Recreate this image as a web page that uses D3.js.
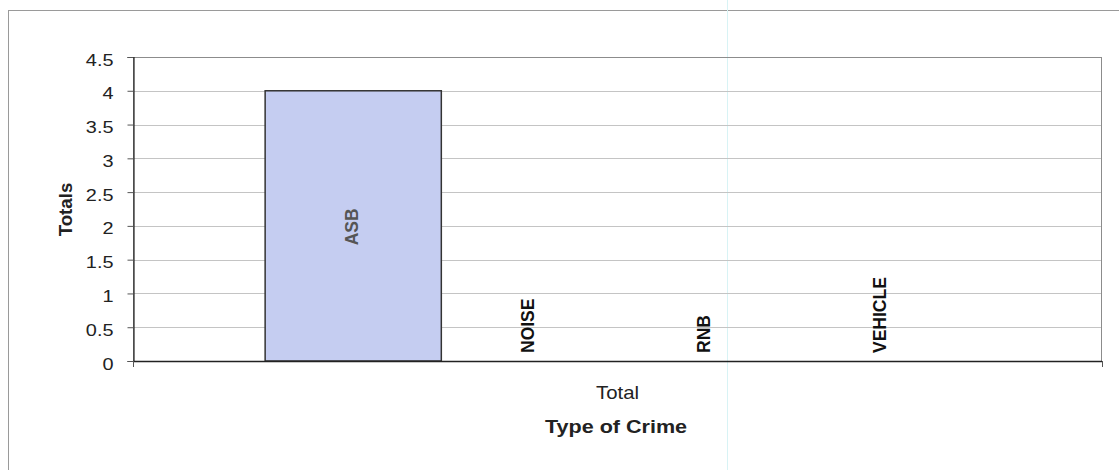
<!DOCTYPE html>
<html><head><meta charset="utf-8">
<script src="https://cdn.jsdelivr.net/npm/d3@7"></script>
<style>body{margin:0;background:#fff}svg{display:block}text{font-family:"Liberation Sans",Arial,sans-serif}</style>
</head><body>
<svg id="c" width="1119" height="470"></svg>
<script>
const categories = ["Total"];
const series = ["ASB", "NOISE", "RNB", "VEHICLE"];
const values = [4, 0, 0, 0];
const yTicks = [0, 0.5, 1, 1.5, 2, 2.5, 3, 3.5, 4, 4.5];

const svg = d3.select("#c");
const L = 133, R = 1102, T = 57, B = 361;

// outer chart border (scan)
svg.append("line").attr("x1",8).attr("x2",1119).attr("y1",10.5).attr("y2",10.5).attr("stroke","#9a9a9a").attr("stroke-width",1);
svg.append("line").attr("x1",8.5).attr("x2",8.5).attr("y1",10).attr("y2",470).attr("stroke","#9a9a9a").attr("stroke-width",1);
// faint scan line
svg.append("line").attr("x1",727.5).attr("x2",727.5).attr("y1",0).attr("y2",470).attr("stroke","#d8f3f5").attr("stroke-width",1);

const y = d3.scaleLinear().domain([0, 4.5]).range([B, T]);
const x0 = d3.scaleBand().domain(categories).range([L, R]);
const x1 = d3.scaleBand().domain(series).range([0, x0.bandwidth()]).paddingInner(0).paddingOuter(0.75);

// gridlines
svg.append("g").selectAll("line").data(yTicks.filter(d => d > 0)).join("line")
  .attr("x1", L).attr("x2", R).attr("y1", d => Math.round(y(d)) + 0.5).attr("y2", d => Math.round(y(d)) + 0.5)
  .attr("stroke", "#c4c4c4").attr("stroke-width", 1);
// plot border
svg.append("rect").attr("x", L + 0.5).attr("y", Math.round(T) + 0.5).attr("width", R - L - 1).attr("height", B - T)
  .attr("fill", "none").attr("stroke", "#8c8c8c").attr("stroke-width", 1);

// bars
const g = svg.append("g").attr("transform", `translate(${x0("Total")},0)`);
const rows = series.map((s, i) => ({s, v: values[i]}));
g.selectAll("rect").data(rows).join("rect")
  .attr("x", d => x1(d.s)).attr("width", x1.bandwidth())
  .attr("y", d => y(d.v)).attr("height", d => y(0) - y(d.v))
  .attr("fill", "#c5cdf1").attr("stroke", "#333").attr("stroke-width", d => d.v > 0 ? 1.5 : 0);

// data labels
g.selectAll("text.lbl").data(rows).join("text")
  .attr("class", "lbl")
  .attr("transform", d => {
    const cx = x1(d.s) + x1.bandwidth() / 2 - 1.5;
    const cy = d.v > 0 ? (y(d.v) + y(0)) / 2 + 1 : y(0) - 8;
    return `translate(${cx},${cy}) rotate(-90)`;
  })
  .attr("text-anchor", d => d.v > 0 ? "middle" : "start")
  .attr("dy", "0.35em")
  .attr("font-size", 17.5).attr("font-weight", "bold")
  .attr("fill", d => d.v > 0 ? "#555" : "#111")
  .text(d => d.s);

// y axis
const yAxis = d3.axisLeft(y).tickValues(yTicks).tickSize(6).tickPadding(0).tickFormat(d3.format("~g"));
const ya = svg.append("g").attr("transform", `translate(${L + 0.5},0)`).call(yAxis);
ya.select(".domain").attr("stroke", "#222").attr("stroke-width", 1.2);
ya.selectAll(".tick line").attr("stroke", "#555");
ya.selectAll(".tick text")
  .attr("x", 0).attr("dy", null)
  .attr("transform", "translate(-20,8) scale(1.22,1)")
  .attr("font-size", 16.3).attr("fill", "#222").attr("font-family", "Liberation Sans, Arial, sans-serif");

// x axis line and edge ticks
svg.append("line").attr("x1", L).attr("x2", R).attr("y1", B + 0.5).attr("y2", B + 0.5).attr("stroke", "#222").attr("stroke-width", 1.5);
svg.selectAll("line.xt").data([L, R]).join("line").attr("class", "xt")
  .attr("x1", d => d + 0.5).attr("x2", d => d + 0.5).attr("y1", B).attr("y2", B + 6).attr("stroke", "#555");

// category label
svg.append("text").attr("transform", `translate(${x0("Total") + x0.bandwidth() / 2},399) scale(1.12,1)`)
  .attr("text-anchor", "middle").attr("font-size", 18.2).attr("fill", "#222").text(categories[0]);
// axis titles
svg.append("text").attr("transform", "translate(616,433) scale(1.16,1)").attr("text-anchor", "middle")
  .attr("font-size", 18.6).attr("font-weight", "bold").attr("fill", "#222").text("Type of Crime");
svg.append("text").attr("transform", "translate(72,209.5) rotate(-90)").attr("text-anchor", "middle")
  .attr("font-size", 18.7).attr("font-weight", "bold").attr("fill", "#222").text("Totals");
</script>
</body></html>
